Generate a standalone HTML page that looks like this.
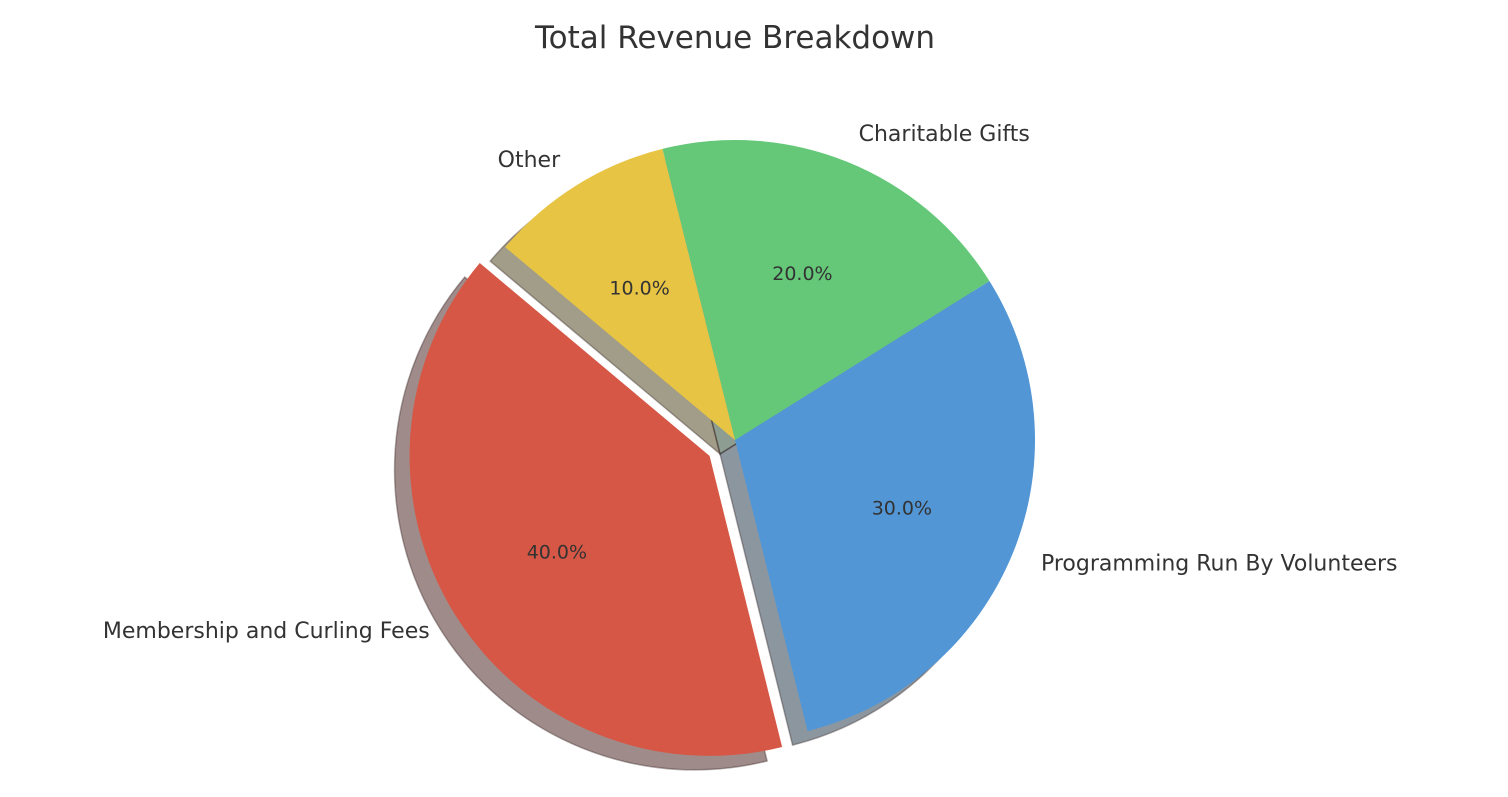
<!DOCTYPE html>
<html><head><meta charset="utf-8"><style>
html,body{margin:0;padding:0;background:#fff;}
svg text{font-family:"DejaVu Sans","Liberation Sans",sans-serif;fill:#333;}
</style></head><body>
<svg id="chart" width="1508" height="792" viewBox="0 0 1508 792" xmlns="http://www.w3.org/2000/svg">
<text x="735" y="48" font-size="31" text-anchor="middle">Total Revenue Breakdown</text>
<g id="shadows"></g>
<g id="slices"></g>
<g id="labels"></g>
</svg>
<script>
const categories = ["Membership and Curling Fees","Programming Run By Volunteers","Charitable Gifts","Other"];
const values = [40,30,20,10];
const explode = [0.1,0,0,0];
const colors = ["#d65745","#5296d5","#64c878","#e8c444"];
const shadowColors = ["rgba(64,26,21,0.5)","rgba(25,45,64,0.5)","rgba(30,60,36,0.5)","rgba(70,59,20,0.5)"];
const startAngle = 140;

const NS="http://www.w3.org/2000/svg";
const cx=735, cy=440, R=300, sdx=-15, sdy=14;
const total=values.reduce((a,b)=>a+b,0);
function pt(x,y,r,deg){const a=deg*Math.PI/180;return [x+r*Math.cos(a), y-r*Math.sin(a)];}
function arcPath(x,y,a0,a1){
  const p0=pt(x,y,R,a0), p1=pt(x,y,R,a1);
  const large=(a1-a0)>180?1:0;
  return `M${x},${y} L${p0[0]},${p0[1]} A${R},${R} 0 ${large} 0 ${p1[0]},${p1[1]} Z`;
}
const sh=document.getElementById('shadows'), sl=document.getElementById('slices'), lb=document.getElementById('labels');
let a=startAngle;
values.forEach((v,i)=>{
  const span=v/total*360, a0=a, a1=a+span, mid=(a0+a1)/2;
  a=a1;
  const off=pt(0,0,explode[i]*R,mid);
  const x=cx+off[0], y=cy+off[1];
  const s=document.createElementNS(NS,'path');
  s.setAttribute('d',arcPath(x+sdx,y+sdy,a0,a1));
  s.setAttribute('fill',shadowColors[i]);
  s.setAttribute('stroke','rgba(40,20,20,0.35)');
  s.setAttribute('stroke-width','1.5');
  
  
  sh.appendChild(s);
  const p=document.createElementNS(NS,'path');
  p.setAttribute('d',arcPath(x,y,a0,a1));
  p.setAttribute('fill',colors[i]);
  
  
  sl.appendChild(p);
  const lp=pt(x,y,R*1.1,mid);
  const t=document.createElementNS(NS,'text');
  t.setAttribute('x',lp[0]); t.setAttribute('y',lp[1]+7);
  t.setAttribute('font-size','22');
  t.setAttribute('text-anchor',Math.cos(mid*Math.PI/180)<0?'end':'start');
  t.textContent=categories[i];
  
  
  lb.appendChild(t);
  const pp=pt(x,y,R*0.6,mid);
  const q=document.createElementNS(NS,'text');
  q.setAttribute('x',pp[0]); q.setAttribute('y',pp[1]+7);
  q.setAttribute('font-size','19');
  q.setAttribute('text-anchor','middle');
  q.textContent=(v/total*100).toFixed(1)+'%';
  
  
  lb.appendChild(q);
});
</script>
</body></html>
